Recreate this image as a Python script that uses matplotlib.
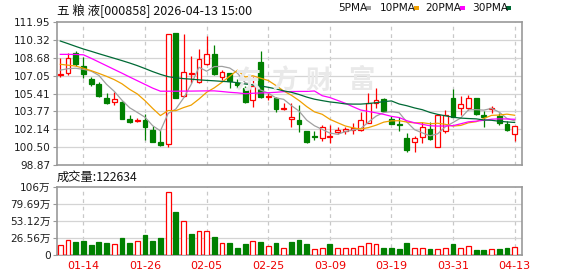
import numpy as np
import matplotlib
matplotlib.use('Agg')
import matplotlib.pyplot as plt
from matplotlib.patches import Rectangle

plt.rcParams['font.family'] = ['DejaVu Sans', 'Noto Sans CJK SC']

# ---------------- data ----------------
open_ = [107.14, 107.25, 109.08, 107.93, 106.74, 106.31, 105.03, 104.60, 104.66, 103.08,
         102.90, 102.99, 102.07, 101.01, 100.79, 110.91, 105.15, 107.22, 106.49, 108.08,
         109.02, 106.95, 107.25, 106.40, 105.94, 104.82, 108.32, 105.06, 105.03, 103.96,
         103.05, 102.99, 101.98, 101.55, 101.37, 101.40, 101.92, 101.98, 102.07, 102.07,
         102.70, 104.57, 104.87, 103.05, 102.62, 101.37, 100.94, 101.40, 102.16, 100.55,
         102.01, 104.97, 104.05, 104.05, 104.97, 103.44, 103.99, 103.35, 102.62, 101.67]
high = [108.63, 109.08, 109.30, 108.78, 106.95, 106.49, 105.49, 105.58, 104.75, 103.44,
        103.14, 103.50, 102.44, 102.07, 110.85, 110.95, 110.85, 108.84, 109.48, 110.70,
        109.85, 107.56, 107.25, 106.71, 106.13, 106.95, 109.30, 105.43, 105.12, 104.51,
        104.57, 104.36, 101.98, 101.98, 102.53, 102.53, 102.38, 102.38, 102.74, 103.75,
        105.42, 105.88, 104.97, 103.35, 103.23, 101.77, 101.52, 102.83, 102.83, 103.50,
        103.90, 105.82, 105.18, 105.27, 104.97, 103.84, 104.27, 103.60, 102.92, 102.44]
low = [106.95, 107.10, 107.96, 106.80, 106.13, 105.12, 104.45, 104.36, 103.05, 102.68,
       102.77, 101.16, 101.01, 100.61, 100.55, 104.98, 105.09, 106.34, 106.34, 107.99,
       107.10, 106.65, 105.88, 105.94, 104.51, 104.21, 105.03, 104.82, 103.69, 103.90,
       102.38, 101.92, 100.91, 101.16, 101.09, 100.91, 101.70, 101.70, 101.70, 101.98,
       102.68, 104.05, 103.75, 102.59, 101.98, 100.09, 100.03, 100.85, 101.16, 100.50,
       101.83, 103.23, 103.44, 103.90, 103.44, 102.38, 103.60, 102.53, 102.01, 101.09]
close = [107.16, 108.63, 108.11, 107.16, 106.25, 105.18, 104.57, 104.91, 103.08, 102.83,
         103.02, 102.38, 101.01, 100.70, 110.85, 105.03, 107.35, 107.30, 108.54, 109.02,
         107.16, 107.41, 106.58, 106.19, 104.66, 106.10, 105.12, 105.18, 103.96, 104.05,
         103.23, 102.59, 101.00, 101.45, 102.38, 101.52, 102.07, 102.16, 102.22, 102.99,
         104.51, 104.81, 103.84, 102.59, 102.53, 100.24, 101.31, 102.38, 101.25, 103.44,
         103.46, 103.29, 104.42, 104.97, 103.53, 103.23, 104.11, 102.68, 102.07, 102.44]

ma5 = [107.55, 107.68, 107.72, 107.62, 107.46, 107.07, 106.25, 105.61, 104.80, 104.11,
       103.68, 103.24, 102.46, 101.99, 103.59, 103.99, 104.99, 106.25, 107.81, 107.45,
       107.87, 107.89, 107.74, 107.27, 106.40, 106.19, 105.73, 105.45, 105.00, 104.88,
       104.31, 103.80, 102.97, 102.46, 102.13, 101.79, 101.68, 101.92, 102.07, 102.19,
       102.79, 103.34, 103.67, 103.75, 103.66, 102.80, 102.10, 101.81, 101.54, 101.72,
       102.37, 102.76, 103.17, 103.92, 103.93, 103.89, 104.05, 103.70, 103.12, 102.91]
ma10 = [108.08, 108.00, 107.92, 107.72, 107.50, 107.25, 106.98, 106.68, 106.30, 105.79,
        105.37, 104.75, 104.04, 103.39, 103.85, 103.84, 104.12, 104.35, 104.90, 105.52,
        105.93, 106.44, 106.99, 107.54, 106.92, 107.03, 106.81, 106.60, 106.14, 105.64,
        105.25, 104.77, 104.21, 103.73, 103.51, 103.05, 102.74, 102.44, 102.27, 102.16,
        102.29, 102.51, 102.79, 102.91, 102.92, 102.80, 102.72, 102.74, 102.64, 102.69,
        102.59, 102.43, 102.49, 102.73, 102.83, 103.13, 103.41, 103.44, 103.52, 103.42]
ma20 = [108.99, 108.99, 108.98, 108.95, 108.63, 108.29, 107.95, 107.61, 107.27, 106.92,
        106.58, 106.24, 105.90, 105.62, 105.62, 105.62, 105.63, 105.63, 105.64, 105.65,
        105.65, 105.59, 105.52, 105.47, 105.39, 105.43, 105.46, 105.48, 105.52, 105.58,
        105.59, 105.60, 105.60, 105.64, 105.21, 105.04, 104.78, 104.52, 104.20, 103.90,
        103.77, 103.64, 103.50, 103.32, 103.21, 102.92, 102.73, 102.59, 102.46, 102.43,
        102.44, 102.47, 102.64, 102.82, 102.88, 102.96, 103.06, 103.09, 103.08, 103.05]
ma30 = [110.21, 109.97, 109.72, 109.48, 109.27, 109.05, 108.84, 108.63, 108.42, 108.20,
        107.96, 107.69, 107.41, 107.16, 106.95, 106.85, 106.77, 106.72, 106.66, 106.61,
        106.57, 106.52, 106.48, 106.40, 106.28, 106.19, 106.10, 105.98, 105.83, 105.65,
        105.52, 105.32, 105.08, 104.89, 104.76, 104.64, 104.56, 104.46, 104.44, 104.44,
        104.49, 104.57, 104.67, 104.73, 104.45, 104.29, 104.09, 103.93, 103.68, 103.50,
        103.37, 103.24, 103.16, 103.12, 103.09, 102.99, 102.96, 102.87, 102.81, 102.76]

volume = [15.3, 23.0, 19.9, 21.5, 15.3, 19.9, 18.4, 16.9, 26.1, 18.4,
          21.5, 30.6, 21.5, 26.1, 98.1, 67.4, 53.1, 32.2, 36.8, 36.8,
          27.6, 19.4, 18.4, 10.7, 16.9, 22.5, 19.9, 14.8, 18.4, 10.2,
          19.9, 23.0, 17.9, 8.7, 10.2, 16.9, 10.2, 10.2, 10.2, 14.8,
          19.4, 16.9, 10.2, 10.2, 8.7, 19.4, 10.2, 10.2, 8.7, 8.7,
          11.7, 16.9, 11.7, 13.3, 7.7, 7.7, 8.7, 8.7, 11.7, 12.26]   # 万手
vol_up = [1, 1, 0, 0, 0, 0, 0, 1, 0, 0,
          1, 0, 0, 0, 1, 0, 1, 0, 1, 1,
          0, 1, 0, 0, 0, 1, 0, 1, 0, 1,
          0, 0, 0, 1, 1, 0, 1, 1, 1, 1,
          1, 1, 0, 0, 0, 0, 1, 1, 0, 1,
          1, 0, 1, 1, 0, 0, 1, 0, 0, 1]

tick_idx = [3, 11, 19, 27, 35, 43, 51, 59]
tick_labels = ['01-14', '01-26', '02-05', '02-25', '03-09', '03-19', '03-31', '04-13']
price_min, price_max = 98.87, 111.95
price_labels = ['98.87', '100.50', '102.14', '103.77', '105.41', '107.05', '108.68', '110.32', '111.95']
vol_max = 106.25
vol_labels = ['0', '26.56万', '53.12万', '79.69万', '106万']
title = '五 粮 液[000858] 2026-04-13 15:00'
vol_title = '成交量:122634'
ma_names = ['5PMA', '10PMA', '20PMA', '30PMA']

# ---------------- style ----------------
RED = '#ff0000'
GREEN = '#008000'
MA_COLORS = ['#a0a0a0', '#f0a000', '#ff00ff', '#006a35']
GRID = '#d4d4d4'
FRAME = '#999999'
TXT = '#1e1e1e'

W, H = 578, 276
fig = plt.figure(figsize=(W / 100, H / 100), dpi=100)

def px_axes(x0, y0, x1, y1):
    return fig.add_axes([x0 / W, 1 - y1 / H, (x1 - x0) / W, (y1 - y0) / H])

ax = px_axes(57, 22, 522, 165)
axv = px_axes(57, 187, 522, 255)

n = len(close)
x = np.arange(n)
bw = 0.62

for a in (ax, axv):
    a.set_xlim(-0.43, n - 0.05)
    for s in a.spines.values():
        s.set_color(FRAME)
        s.set_linewidth(1.2)
    a.set_xticks(tick_idx)
    a.tick_params(axis='x', length=0)
    a.tick_params(axis='y', length=3, color=FRAME, width=0.8, labelsize=7.6, labelcolor=TXT, pad=1.5)
    for t in tick_idx:
        a.axvline(t, color='#c8c8c8', lw=0.9, ls=(0, (3, 3)), zorder=0.5)

ax.set_ylim(price_min, price_max)
yt = np.linspace(price_min, price_max, len(price_labels))
ax.set_yticks(yt)
ax.set_yticklabels(price_labels)
for v in yt[1:-1]:
    ax.axhline(v, color=GRID, lw=0.9, zorder=0.5)
ax.set_xticklabels([])

# watermark
for ch, xc in zip('东方财富', [248, 284, 318, 361]):
    fig.text(xc / W, 1 - 81 / H, ch, fontsize=19, color='#e9e9e9', ha='center', va='center',
             fontweight='bold', family=['Noto Sans CJK SC'], zorder=0.2)

# candles
for i in range(n):
    o, h, l, c = open_[i], high[i], low[i], close[i]
    up = c >= o
    col = RED if up else GREEN
    ax.vlines(x[i], l, h, color=col, lw=0.9, zorder=2)
    bot = min(o, c)
    ht = max(abs(c - o), 0.02)
    ax.add_patch(Rectangle((x[i] - bw / 2, bot), bw, ht, facecolor='white' if up else GREEN,
                           edgecolor=col, lw=0.9, zorder=3))

for ma, col in zip([ma5, ma10, ma20, ma30], MA_COLORS):
    ax.plot(x, ma, color=col, lw=0.9, zorder=4)

# volume
axv.set_ylim(0, vol_max)
vt = np.linspace(0, vol_max, len(vol_labels))
axv.set_yticks(vt)
axv.set_yticklabels(vol_labels)
for v in vt[1:-1]:
    axv.axhline(v, color=GRID, lw=0.9, zorder=0.5)
for i in range(n):
    if vol_up[i]:
        axv.add_patch(Rectangle((x[i] - bw / 2, 0), bw, volume[i], facecolor='white',
                                edgecolor=RED, lw=0.9, zorder=3))
    else:
        axv.add_patch(Rectangle((x[i] - bw / 2, 0), bw, volume[i], facecolor=GREEN,
                                edgecolor=GREEN, lw=0.9, zorder=3))
axv.set_xticklabels(tick_labels, color='#ee0000', fontsize=8)
axv.tick_params(axis='x', pad=4)

cjk = ['Noto Sans CJK SC', 'DejaVu Sans']
fig.text(57 / W, 1 - 11 / H, title, fontsize=9, ha='left', va='center', color='#111111', family=cjk)
fig.text(57 / W, 1 - 177 / H, vol_title, fontsize=8.8, ha='left', va='center', color='#111111', family=cjk)

leg_x = [338, 380, 425, 472]
mark_x = [366, 414, 460, 506]
for name, lx, mx, col in zip(ma_names, leg_x, mark_x, MA_COLORS):
    fig.text(lx / W, 1 - 8 / H, name, fontsize=7.6, ha='left', va='center', color='#111111')
    fig.patches.append(Rectangle((mx / W, 1 - 10 / H), 5 / W, 4 / H, transform=fig.transFigure,
                                 facecolor=col, edgecolor='none', figure=fig))

fig.savefig('out.png', dpi=100)
